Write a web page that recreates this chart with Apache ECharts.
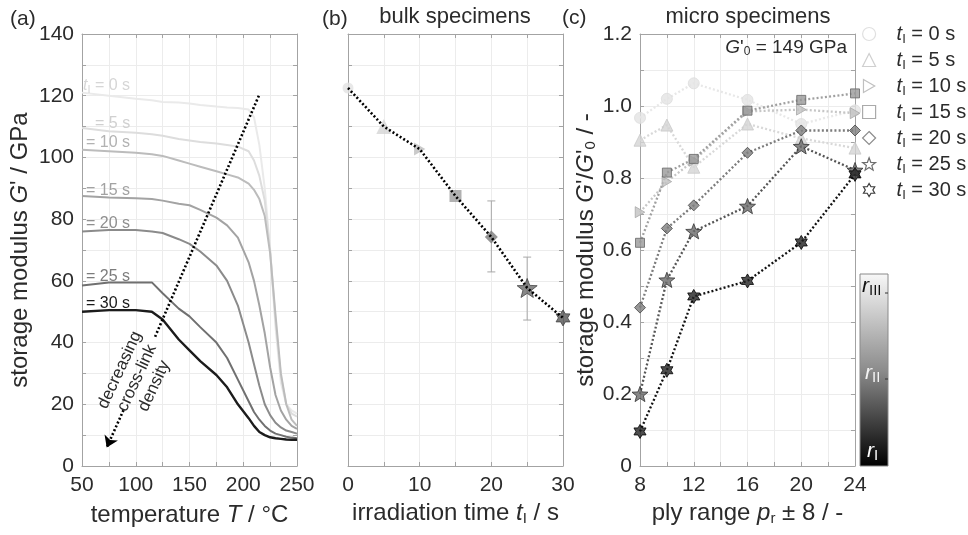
<!DOCTYPE html>
<html>
<head>
<meta charset="utf-8">
<script src="https://cdn.jsdelivr.net/npm/echarts@6/dist/echarts.min.js"></script>
<style>
  html, body { margin: 0; padding: 0; background: #fff; }
  #chart { width: 968px; height: 535px; }
</style>
</head>
<body>
<div id="chart"></div>
<script>
// ---- (a) storage modulus vs temperature, one curve per irradiation time
var tempC = [50, 75, 100, 115, 125, 140, 150, 160, 175, 185, 195, 205, 210, 215, 220, 225, 230, 235, 240, 245, 250];
var gT0  = [121, 120, 119, 118.5, 118, 117.8, 117.5, 117, 116.5, 116.2, 116, 115.5, 113, 104, 90, 70, 45, 27, 20, 18, 17];
var gT5  = [109.5, 108.5, 108, 107.5, 107, 106, 105.5, 105, 104.5, 104, 103.5, 102, 99, 94, 86, 70, 47, 29, 20, 17, 16];
var gT10 = [102.5, 102, 101.5, 101, 100.5, 99, 98, 97, 95.5, 94.5, 93.5, 91.5, 89.5, 86.5, 81, 69, 49, 30, 20, 15, 13];
var gT15 = [87.5, 87, 86.8, 86.5, 86, 85, 84.5, 83, 80.5, 78, 74, 66, 60, 52, 43, 32, 23, 18, 15, 13, 12];
var gT20 = [76, 76.5, 76.5, 76, 75.5, 73.5, 72, 69.5, 65, 60, 52, 40, 33, 26, 20, 16.5, 14, 12.5, 11.5, 11, 10.5];
var gT25 = [58.5, 59.5, 59.5, 59.5, 56, 51, 48.5, 45, 40, 35, 28, 21, 17.5, 15, 13, 11.5, 10.5, 10, 9.5, 9.2, 9];
var gT30 = [50, 50.5, 50.5, 50, 47.5, 41, 37.5, 34, 29.5, 25.5, 20, 15.5, 13, 11, 10, 9.3, 9, 8.8, 8.6, 8.5, 8.5];
var curveLabels = ['= 0 s', '= 5 s', '= 10 s', '= 15 s', '= 20 s', '= 25 s', '= 30 s'];
// dotted arrow "decreasing cross-link density" (T, G')
var arrowTail = [214.5, 120], arrowGapTop = [117.9, 41.8], arrowGapBottom = [88.6, 18.1], arrowTip = [73, 6];

// ---- (b) bulk specimens
var irrTimes = [0, 5, 10, 15, 20, 25, 30];
var bulkG = [122.5, 110, 102.7, 87.5, 74.2, 57.7, 48.0];
var bulkErrLow  = [null, null, null, null, 62.9, 47.3, null];
var bulkErrHigh = [null, null, null, null, 85.9, 67.7, null];

// ---- (c) micro specimens, G'/G'0 vs ply range
var plyRange = [8, 10, 12, 16, 20, 24];
var mT0  = [0.967, 1.02, 1.063, 1.017, 0.95, 0.988];
var mT5  = [0.905, 0.947, 0.83, 0.95, 0.91, 0.883];
var mT10 = [0.705, 0.79, 0.848, 0.985, 0.99, 0.98];
var mT15 = [0.62, 0.815, 0.853, 0.987, 1.017, 1.035];
var mT20 = [0.44, 0.66, 0.724, 0.87, 0.932, 0.932];
var mT25 = [0.2, 0.517, 0.652, 0.722, 0.888, 0.822];
var mT30 = [0.096, 0.266, 0.471, 0.514, 0.621, 0.81];

var FONT = '"Liberation Sans", Arial, Helvetica, sans-serif';
var TXT = '#2b2b2b';
var AX = '#a3a3a3';
var GRIDC = '#ececec';

function star(n, rIn) {
  var pts = [];
  for (var i = 0; i < 2 * n; i++) {
    var a = -Math.PI / 2 + i * Math.PI / n;
    var r = (i % 2) ? rIn : 1;
    pts.push((50 + 50 * r * Math.cos(a)).toFixed(2) + ',' + (50 + 50 * r * Math.sin(a)).toFixed(2));
  }
  return 'path://M' + pts.join('L') + 'Z';
}
var SYM = ['circle', 'triangle', 'path://M0,0L8.66,5L0,10Z', 'rect', 'diamond', star(5, 0.42), star(6, 0.58)];
var symSizeB = [11, 15, 13, 12, 13, 20, 16];
var symSizeC = [11, 12, 11, 9, 11, 16, 14];

var colA = ['#eaeaea', '#dddddd', '#bcbcbc', '#a3a3a3', '#8b8b8b', '#707070', '#1c1c1c'];
var labA = ['#d6d6d6', '#d0d0d0', '#b2b2b2', '#a2a2a2', '#8f8f8f', '#7c7c7c', '#1a1a1a'];
var fillB = ['#e2e2e2', '#d4d4d4', '#bdbdbd', '#9d9d9d', '#7b7b7b', '#6a6a6a', '#555555'];
var lineC = ['#e8e8e8', '#d8d8d8', '#c6c6c6', '#a0a0a0', '#7c7c7c', '#555555', '#111111'];
var fillC = ['#e4e4e4', '#d4d4d4', '#c2c2c2', '#999999', '#7e7e7e', '#6a6a6a', '#222222'];
var edgeC = ['#dddddd', '#c8c8c8', '#a8a8a8', '#666666', '#444444', '#333333', '#000000'];
var legEdge = ['#e0e0e0', '#cfcfcf', '#c0c0c0', '#aaaaaa', '#8c8c8c', '#6e6e6e', '#3a3a3a'];

var curvesA = [gT0, gT5, gT10, gT15, gT20, gT25, gT30];
var curvesC = [mT0, mT5, mT10, mT15, mT20, mT25, mT30];

var RICH = {
  n: { fontSize: 24, fontFamily: FONT, color: TXT, lineHeight: 26 },
  i: { fontSize: 24, fontFamily: FONT, color: TXT, lineHeight: 26, fontStyle: 'italic' },
  s: { fontSize: 15, fontFamily: FONT, color: TXT, lineHeight: 26, padding: [10, 0, 0, 0] }
};

function baseAxis(g, pos, min, max, step) {
  return {
    type: 'value', gridIndex: g, position: pos, min: min, max: max, interval: step,
    axisLine: { show: true, onZero: false, lineStyle: { color: AX, width: 1 } },
    axisTick: { show: true, inside: true, length: 4, lineStyle: { color: AX } },
    axisLabel: { show: false },
    splitLine: { show: false }
  };
}
function labelled(a, fmt, margin) {
  a.axisLabel = { show: true, formatter: fmt, color: TXT, fontSize: 21, fontFamily: FONT, margin: margin };
  a.splitLine = { show: true, lineStyle: { color: GRIDC, width: 1 } };
  return a;
}
function named(a, name, gap) {
  a.name = name; a.nameLocation = 'middle'; a.nameGap = gap;
  a.nameTextStyle = { color: TXT, fontFamily: FONT, fontSize: 24, rich: RICH };
  return a;
}
function everyOther(step, start) {
  return function (v) { var k = Math.round((v - start) / step); return k % 2 ? '' : String(v); };
}
var blank = function () { return ''; };
var fmtC = function (v) {
  var k = Math.round(v * 10);
  if (k % 2) return '';
  return k === 0 ? '0' : (k / 10).toFixed(1);
};

var xAxes = [
  named(labelled(baseAxis(0, 'bottom', 50, 250, 25), everyOther(25, 50), 9), '{n|temperature }{i|T}{n| / °C}', 36),
  baseAxis(0, 'top', 50, 250, 25),
  named(labelled(baseAxis(1, 'bottom', 0, 30, 5), everyOther(5, 0), 9), '{n|irradiation time }{i|t}{s|I}{n| / s}', 31),
  baseAxis(1, 'top', 0, 30, 5),
  named(labelled(baseAxis(2, 'bottom', 8, 24, 2), everyOther(2, 8), 9), '{n|ply range }{i|p}{s|r}{n| ± 8 / -}', 31),
  baseAxis(2, 'top', 8, 24, 2)
];
var yAxes = [
  named(labelled(baseAxis(0, 'left', 0, 140, 10), everyOther(10, 0), 8), "{n|storage modulus }{i|G}{n|' / GPa}", 49),
  baseAxis(0, 'right', 0, 140, 10),
  labelled(baseAxis(1, 'left', 0, 140, 10), blank, 8),
  baseAxis(1, 'right', 0, 140, 10),
  named(labelled(baseAxis(2, 'left', 0, 1.2, 0.1), fmtC, 8), "{n|storage modulus }{i|G}{n|'/}{i|G}{n|'}{s|0}{n| / -}", 41),
  baseAxis(2, 'right', 0, 1.2, 0.1)
];

var series = [];
var dottedA = { color: '#000', width: 2.6, type: [2, 2.2] };

// (a) curves
curvesA.forEach(function (arr, i) {
  var s = {
    type: 'line', xAxisIndex: 0, yAxisIndex: 0, showSymbol: false, silent: true,
    data: tempC.map(function (t, j) { return [t, arr[j]]; }),
    lineStyle: { color: colA[i], width: i === 6 ? 2.4 : 2 },
    z: 2 + i
  };
  if (i === 6) {
    s.markLine = {
      silent: true, symbol: ['none', 'none'], symbolSize: 11,
      label: { show: false }, lineStyle: dottedA, z: 20,
      data: [
        [{ coord: arrowTail, symbol: 'none' }, { coord: arrowGapTop, symbol: 'none' }],
        [{ coord: arrowGapBottom, symbol: 'none' }, { coord: arrowTip, symbol: 'arrow' }]
      ]
    };
  }
  series.push(s);
});

// (b) error bars
series.push({
  type: 'custom', xAxisIndex: 2, yAxisIndex: 2, silent: true, z: 3,
  data: irrTimes.map(function (t, i) { return [t, bulkErrLow[i], bulkErrHigh[i]]; })
    .filter(function (d) { return d[1] !== null; }),
  encode: { x: 0, y: [1, 2] },
  renderItem: function (params, api) {
    var lo = api.coord([api.value(0), api.value(1)]);
    var hi = api.coord([api.value(0), api.value(2)]);
    var st = { stroke: '#a8a8a8', lineWidth: 1 };
    return {
      type: 'group', children: [
        { type: 'line', shape: { x1: lo[0], y1: lo[1], x2: hi[0], y2: hi[1] }, style: st },
        { type: 'line', shape: { x1: lo[0] - 4, y1: lo[1], x2: lo[0] + 4, y2: lo[1] }, style: st },
        { type: 'line', shape: { x1: hi[0] - 4, y1: hi[1], x2: hi[0] + 4, y2: hi[1] }, style: st }
      ]
    };
  }
});
// (b) markers
series.push({
  type: 'scatter', xAxisIndex: 2, yAxisIndex: 2, silent: true, z: 4,
  symbolKeepAspect: true,
  data: irrTimes.map(function (t, i) {
    return {
      value: [t, bulkG[i]], symbol: SYM[i], symbolSize: symSizeB[i],
      itemStyle: { color: fillB[i], borderColor: i >= 5 ? '#444' : fillB[i], borderWidth: i >= 5 ? 1 : 0 }
    };
  })
});
// (b) dotted trend line
series.push({
  type: 'line', xAxisIndex: 2, yAxisIndex: 2, showSymbol: false, silent: true, z: 6,
  data: irrTimes.map(function (t, i) { return [t, bulkG[i]]; }),
  lineStyle: dottedA
});

// (c) lines and markers
var legendNames = [];
curvesC.forEach(function (arr, i) {
  var name = 'tI' + irrTimes[i];
  legendNames.push(name);
  series.push({
    type: 'line', name: name, xAxisIndex: 4, yAxisIndex: 4, showSymbol: false, silent: true,
    data: plyRange.map(function (p, j) { return [p, arr[j]]; }),
    lineStyle: { color: lineC[i], width: 2.3, type: [2, 2.2] },
    z: 2 + i
  });
});
curvesC.forEach(function (arr, i) {
  series.push({
    type: 'scatter', name: 'tI' + irrTimes[i], xAxisIndex: 4, yAxisIndex: 4, silent: true,
    symbol: SYM[i], symbolSize: symSizeC[i], symbolKeepAspect: true,
    data: plyRange.map(function (p, j) { return [p, arr[j]]; }),
    itemStyle: { color: fillC[i], borderColor: edgeC[i], borderWidth: 1 },
    z: 12 + i
  });
});

var LRICH = {
  i: { fontSize: 20, fontFamily: FONT, color: TXT, fontStyle: 'italic', lineHeight: 22, padding: [0, 0, 0, 16] },
  s: { fontSize: 13, fontFamily: FONT, color: TXT, lineHeight: 22, padding: [11, 0, 0, 0] },
  n: { fontSize: 20, fontFamily: FONT, color: TXT, lineHeight: 22 }
};

var graphics = [];
function txt(x, y, text, opt) {
  opt = opt || {};
  var el = {
    type: 'text', x: x, y: y, silent: true, rotation: opt.rotation || 0, z: 100,
    style: {
      text: text, fill: opt.fill || TXT, fontSize: opt.fontSize || 21, fontFamily: FONT,
      fontStyle: opt.fontStyle || 'normal',
      align: opt.align || 'left', textAlign: opt.align || 'left',
      verticalAlign: 'middle', textVerticalAlign: 'middle',
      lineHeight: opt.lineHeight, rich: opt.rich
    }
  };
  graphics.push(el);
}
// panel letters and titles
txt(10, 19, '(a)');
txt(322, 19, '(b)');
txt(562, 18, '(c)');
txt(455, 17, 'bulk specimens', { align: 'center', fontSize: 22 });
txt(748, 17, 'micro specimens', { align: 'center', fontSize: 22 });

// curve labels in (a)
var SRICH = {
  i: { fontSize: 16, fontFamily: FONT, fontStyle: 'italic', lineHeight: 18 },
  s: { fontSize: 11, fontFamily: FONT, lineHeight: 18, padding: [7, 0, 0, 0] },
  n: { fontSize: 16, fontFamily: FONT, lineHeight: 18 }
};
var labPos = [[83, 86], [95, 124], [86, 143], [86, 191], [86, 224], [86, 277], [86, 304]];
curveLabels.forEach(function (lab, i) {
  var t = i === 0 ? '{i|t}{s|I}{n| ' + lab + '}' : '{n|' + lab + '}';
  txt(labPos[i][0], labPos[i][1], t, { fill: labA[i], rich: SRICH });
});
// rotated annotation
txt(137, 378, 'decreasing\ncross-link\ndensity', { align: 'center', fontSize: 17, lineHeight: 19, rotation: 65 * Math.PI / 180 });

// G'0 note in (c)
txt(847, 48, "{i|G}{n|'}{s|0}{n| = 149 GPa}", {
  align: 'right',
  rich: {
    i: { fontSize: 19, fontFamily: FONT, fill: TXT, fontStyle: 'italic', lineHeight: 20 },
    s: { fontSize: 12, fontFamily: FONT, fill: TXT, lineHeight: 20, padding: [8, 0, 0, 0] },
    n: { fontSize: 19, fontFamily: FONT, fill: TXT, lineHeight: 20 }
  }
});

// colour bar r_I .. r_III
graphics.push({
  type: 'rect', shape: { x: 860, y: 274, width: 28, height: 192 }, silent: true, z: 90,
  style: {
    stroke: '#8a8a8a', lineWidth: 1,
    fill: new echarts.graphic.LinearGradient(0, 0, 0, 1, [
      { offset: 0, color: '#f8f8f8' }, { offset: 0.5, color: '#8c8c8c' }, { offset: 1, color: '#000000' }
    ])
  }
});
graphics.push({ type: 'line', shape: { x1: 885, y1: 293, x2: 888, y2: 293 }, style: { stroke: '#333', lineWidth: 1 }, silent: true, z: 95 });
graphics.push({ type: 'line', shape: { x1: 885, y1: 379, x2: 888, y2: 379 }, style: { stroke: '#333', lineWidth: 1 }, silent: true, z: 95 });
function cbRich(col) {
  return {
    i: { fontSize: 21, fontFamily: FONT, fill: col, fontStyle: 'italic', lineHeight: 22 },
    s: { fontSize: 15, fontFamily: FONT, fill: col, lineHeight: 22, padding: [10, 0, 0, 0] }
  };
}
txt(862, 286, '{i|r}{s|III}', { fill: '#111', rich: cbRich('#111') });
txt(865, 373, '{i|r}{s|II}', { fill: '#f4f4f4', rich: cbRich('#f4f4f4') });
txt(867, 451, '{i|r}{s|I}', { fill: '#ffffff', rich: cbRich('#ffffff') });

var option = {
  animation: false,
  backgroundColor: '#fff',
  textStyle: { fontFamily: FONT },
  grid: [
    { left: 82, top: 34, width: 215, height: 432, outerBoundsMode: 'none' },
    { left: 348, top: 34, width: 215, height: 432, outerBoundsMode: 'none' },
    { left: 640, top: 34, width: 215, height: 432, outerBoundsMode: 'none' }
  ],
  xAxis: xAxes,
  yAxis: yAxes,
  legend: {
    orient: 'vertical', left: 862, top: 22, itemWidth: 13, itemHeight: 13, itemGap: 2,
    padding: 0, selectedMode: false,
    data: legendNames.map(function (n, i) {
      return { name: n, icon: SYM[i], itemStyle: { color: '#ffffff', borderColor: legEdge[i], borderWidth: 1.2 } };
    }),
    formatter: function (name) {
      return '{i|t}{s|I}{n| = ' + name.slice(2) + ' s}';
    },
    textStyle: { rich: LRICH }
  },
  graphic: { elements: graphics },
  series: series
};

var chart = echarts.init(document.getElementById('chart'), null, { renderer: 'canvas' });
chart.setOption(option);
</script>
</body>
</html>
